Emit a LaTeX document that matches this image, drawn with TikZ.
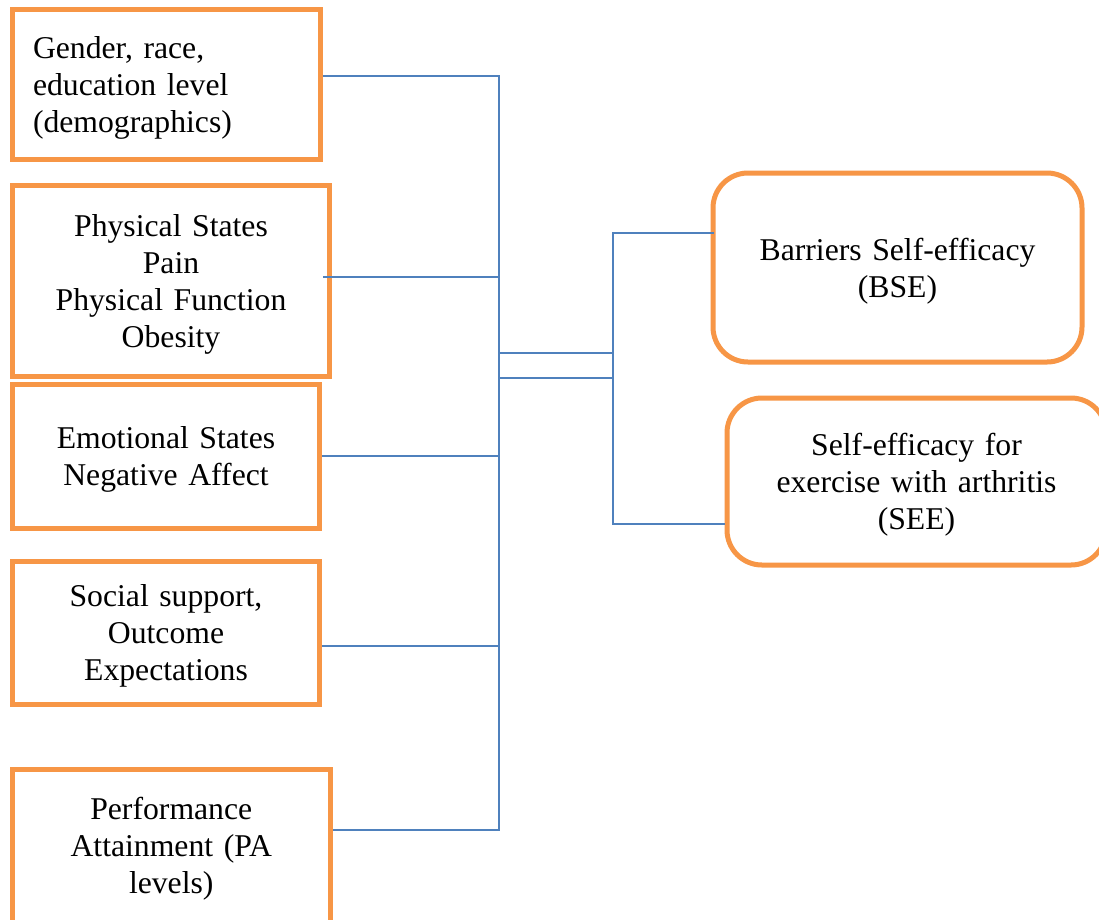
\documentclass[tikz,border=0pt]{standalone}
\usepackage{fontspec}
\setmainfont{Liberation Serif}
\definecolor{boxorange}{HTML}{F79646}
\definecolor{lineblue}{HTML}{4F81BD}
\begin{document}
\begin{tikzpicture}[x=1pt,y=-1pt,
  box/.style={draw=boxorange, line width=5pt, rectangle, inner sep=0pt,
    font=\fontsize{31.7pt}{37pt}\selectfont, align=center,
    execute at begin node={\rule{0pt}{29.5pt}}},
  rbox/.style={box, rounded corners=35pt},
  conn/.style={draw=lineblue, line width=1.8pt}]
\useasboundingbox (0,0) rectangle (1099,919);
\fill[white] (0,0) rectangle (1099,919);

\node[box, minimum width=307.5pt, minimum height=150pt, text width=266.5pt, inner xsep=20.5pt, align=left] (b1) at (166.25,84.5)
  {Gender, race,\\education level\\(demographics)};
\node[box, minimum width=317pt, minimum height=191pt, text width=300pt] (b2) at (171,280.5)
  {Physical States\\Pain\\Physical Function\\Obesity};
\node[box, minimum width=307pt, minimum height=144pt, text width=290pt] (b3) at (166,456)
  {Emotional States\\Negative Affect};
\node[box, minimum width=307pt, minimum height=143pt, text width=290pt] (b4) at (166,632.5)
  {Social support,\\Outcome\\Expectations};
\node[box, minimum width=317.5pt, minimum height=153pt, text width=300pt] (b5) at (171.25,845.5)
  {Performance\\Attainment (PA\\levels)};
\node[rbox, minimum width=369pt, minimum height=189pt, text width=350pt] (bse) at (897.5,267.5)
  {Barriers Self-efficacy\\(BSE)};
\node[rbox, minimum width=379pt, minimum height=167pt, text width=360pt] (see) at (916.5,481.5)
  {Self-efficacy for\\exercise with arthritis\\(SEE)};

\coordinate (t1) at (499,76);
\coordinate (t2) at (499,277);
\coordinate (t3) at (499,456);
\coordinate (t4) at (499,646);
\coordinate (t5) at (499,830);
\coordinate (m1) at (499,353);
\coordinate (m2) at (499,378);
\coordinate (n1) at (613,353);
\coordinate (n2) at (613,378);
\coordinate (n3) at (613,233);
\coordinate (n4) at (613,524);

\draw[conn] (b1.east |- t1) -- (t1) -- (t5) -- (b5.east |- t5);
\draw[conn] ([xshift=-9pt]b2.east |- t2) -- (t2);
\draw[conn] (b3.east |- t3) -- (t3);
\draw[conn] (b4.east |- t4) -- (t4);
\draw[conn] (m1) -- (n1);
\draw[conn] (m2) -- (n2);
\draw[conn] ([xshift=3pt]bse.west |- n3) -- (n3) -- (n4) -- (see.west |- n4);
\end{tikzpicture}
\end{document}
